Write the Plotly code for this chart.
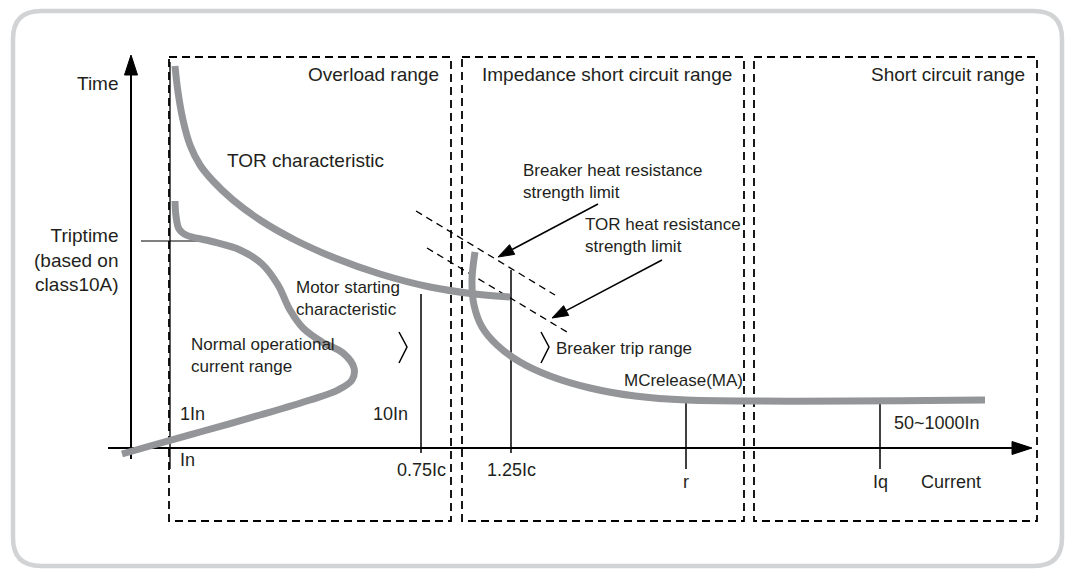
import plotly.graph_objects as go

W, H = 1066, 569

# curves (schematic, picture coordinates: x right, y down)
tor_x = [175, 178, 183, 190, 200, 213, 233, 260, 295, 335, 380, 430, 475, 510]
tor_y = [66, 92, 120, 145, 165, 181, 200, 220, 240, 258, 274, 287, 294, 297]

motor_x = [175, 176, 179, 186, 210, 240, 262, 278, 290, 303, 322, 343, 354, 352, 338, 310, 260, 200, 150, 122]
motor_y = [201, 216, 229, 235, 241, 250, 264, 285, 310, 328, 342, 353, 368, 380, 390, 400, 415, 432, 446, 454]

mc_x = [475, 472, 474, 482, 497, 520, 550, 590, 635, 686, 985]
mc_y = [252, 280, 305, 327, 345, 362, 376, 388, 396, 400, 400]

# range boxes
box_names = ["Overload range", "Impedance short circuit range", "Short circuit range"]
box_x0 = [169, 462, 754]
box_x1 = [451, 744, 1037]
box_top, box_bottom = 57, 521

# current axis markers
mark_x = [421, 511, 686, 880]
mark_top = [294, 270, 400, 400]
mark_bot = [453, 453, 469, 469]
mark_lbl = ["0.75Ic", "1.25Ic", "r", "Iq"]
mark_lbl_y = [470, 470, 482, 482]

GRAY = "#939598"
FONT = "Arial, Liberation Sans, sans-serif"

fig = go.Figure()

def line(xs, ys, color="black", width=1.5, dash=None, shape="linear"):
    fig.add_trace(go.Scatter(x=xs, y=ys, mode="lines", hoverinfo="skip",
                             line=dict(color=color, width=width, dash=dash, shape=shape)))

def tri(xs, ys):
    fig.add_trace(go.Scatter(x=xs, y=ys, mode="lines", fill="toself", fillcolor="black",
                             line=dict(color="black", width=1), hoverinfo="skip"))

def arrow(x0, y0, x1, y1, L=16, w=5.5, width=1.5):
    dx, dy = x1 - x0, y1 - y0
    n = (dx * dx + dy * dy) ** 0.5
    ux, uy = dx / n, dy / n
    bx, by = x1 - ux * L, y1 - uy * L
    line([x0, bx], [y0, by], width=width)
    tri([x1, bx - uy * w, bx + uy * w, x1], [y1, by + ux * w, by - ux * w, y1])

# dashed range boxes
for x0, x1 in zip(box_x0, box_x1):
    line([x0, x1, x1, x0, x0], [box_top, box_top, box_bottom, box_bottom, box_top],
         width=1.8, dash="8px,5px")

# solid In line
line([170, 170], [62, 469], width=1.3)

# axes
arrow(131, 459, 131, 55, L=20, w=6.5, width=2)
arrow(108, 448, 1032, 448, L=20, w=6.5, width=2)

# markers
for x, t, b in zip(mark_x, mark_top, mark_bot):
    line([x, x], [t, b], width=1.5)

# triptime line
line([141, 213], [241, 241], width=1)

# heat limit dashed diagonals
line([416, 555], [211, 295], width=1.3, dash="7px,5px")
line([427, 567], [248, 332], width=1.3, dash="7px,5px")

# chevrons
line([399, 407, 399], [332, 347, 363], width=1.5)
line([541, 549, 541], [332, 347, 363], width=1.5)

# gray curves
line(tor_x, tor_y, GRAY, 7, shape="spline")
line(motor_x, motor_y, GRAY, 7, shape="spline")
line(mc_x, mc_y, GRAY, 7, shape="spline")

# pointer arrows
arrow(598, 204, 498, 257)
arrow(662, 260, 552, 318)

def txt(x, y, s, anchor="left", size=19):
    fig.add_annotation(x=x, y=y, text=s, showarrow=False, xanchor=anchor, yanchor="middle",
                       font=dict(family=FONT, size=size, color="#231f20"), align=anchor)

for name, x1 in zip(box_names, box_x1):
    txt(x1 - 10, 74, name, "right")

for x, y, s in zip(mark_x, mark_lbl_y, mark_lbl):
    txt(x, y, s, "center", 18)

txt(121, 83, "Time", "right")
txt(121, 260, "Triptime<br>(based on<br>class10A)", "right")
txt(225, 160, "TOR characteristic")
txt(294, 298, "Motor starting<br>characteristic", size=17)
txt(189, 355, "Normal operational<br>current range", size=17)
txt(178, 414, "1In", size=18)
txt(178, 460, "In", size=18)
txt(371, 414, "10In", size=18)
txt(521, 181, "Breaker heat resistance<br>strength limit", size=17)
txt(583, 235, "TOR heat resistance<br>strength limit", size=17)
txt(554, 348, "Breaker trip range", size=17)
txt(622, 380, "MCrelease(MA)", size=17)
txt(892, 423, "50~1000In", size=18)
txt(919, 482, "Current", size=18)

# rounded frame
r = 28
x0, y0, x1, y1 = 13, 11, 1062, 566
path = (f"M{x0+r},{y0} L{x1-r},{y0} Q{x1},{y0} {x1},{y0+r} L{x1},{y1-r} Q{x1},{y1} {x1-r},{y1} "
        f"L{x0+r},{y1} Q{x0},{y1} {x0},{y1-r} L{x0},{y0+r} Q{x0},{y0} {x0+r},{y0} Z")
fig.add_shape(type="path", path=path, xref="x", yref="y", line=dict(color="#d1d3d4", width=4.5))

fig.update_layout(
    width=W, height=H, margin=dict(l=0, r=0, t=0, b=0),
    plot_bgcolor="white", paper_bgcolor="white", showlegend=False,
    xaxis=dict(range=[0, W], visible=False, fixedrange=True),
    yaxis=dict(range=[H, 0], visible=False, fixedrange=True),
)

fig.write_html("out.html", config={"displayModeBar": False},
               post_script="document.body.style.margin='0';document.body.style.overflow='hidden';")
